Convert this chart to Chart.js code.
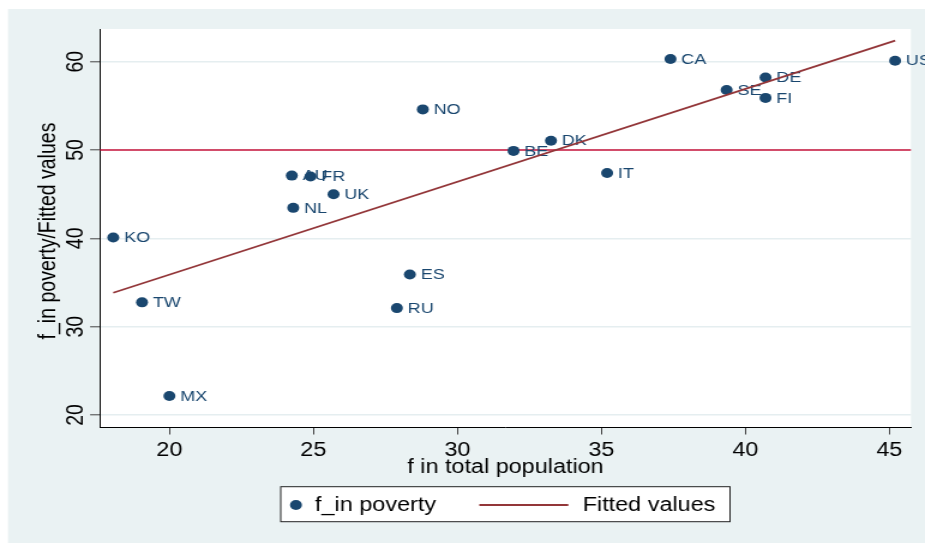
<!DOCTYPE html>
<html>
<head>
<meta charset="utf-8">
<title>f_in poverty vs f in total population</title>
<script src="https://cdn.jsdelivr.net/npm/chart.js@4"></script>
<style>
    html, body { margin: 0; padding: 0; background: #ffffff; overflow: hidden; }
    /* the graph is laid out on a 771px canvas and widened to fill the window */
    #wrap { width: 771px; height: 543px; transform: scaleX(1.1997); transform-origin: 0 0; }
</style>
</head>
<body>
<div id="wrap"><canvas id="povertyChart" width="771" height="543"></canvas></div>
<script>
// Country codes and the two shares
const countries = ['CA', 'US', 'DE', 'FI', 'SE', 'NO', 'BE', 'DK', 'IT', 'AU', 'FR', 'UK', 'NL', 'KO', 'TW', 'MX', 'ES', 'RU'];
const fTotal = [37.4, 45.2, 40.7, 40.7, 39.35, 28.8, 31.95, 33.25, 35.2, 24.25, 24.9, 25.7, 24.3, 18.05, 19.05, 20.0, 28.35, 27.9];
const fPoverty = [60.3, 60.1, 58.2, 55.9, 56.8, 54.6, 49.9, 51.05, 47.4, 47.1, 47.0, 45.0, 43.45, 40.1, 32.75, 22.15, 35.9, 32.1];

// Linear fit, end points
const fitX = [18.05, 45.2];
const fitY = [33.84, 62.38];

// Reference line
const refLine = 50;

// Axis ranges and ticks
const xRange = [17.59, 45.75];
const yRange = [18.64, 63.7];
const xTicks = [20, 25, 30, 35, 40, 45];
const yTicks = [20, 30, 40, 50, 60];

const NAVY = '#1a476f';
const MAROON = '#933639';
const RED = '#c8143c';
const BLUEGRAY = '#eaf2f3';
const FONT = '"Liberation Sans", Arial, sans-serif';

const stataLook = {
    id: 'stataLook',
    beforeDraw(chart) {
        const { ctx, chartArea: a, width, height } = chart;
        ctx.save();
        ctx.fillStyle = '#ffffff';
        ctx.fillRect(0, 0, width, height);
        ctx.fillStyle = BLUEGRAY;
        ctx.fillRect(6.7, 9, width - 6.7, height - 9);
        ctx.fillStyle = '#ffffff';
        ctx.fillRect(a.left, a.top, a.right - a.left, a.bottom - a.top);
        ctx.restore();
    },
    beforeDatasetsDraw(chart) {
        const { ctx, chartArea: a } = chart;
        const y = chart.scales.y.getPixelForValue(refLine);
        ctx.save();
        ctx.strokeStyle = RED;
        ctx.lineWidth = 1.6;
        ctx.beginPath();
        ctx.moveTo(a.left, y);
        ctx.lineTo(a.right, y);
        ctx.stroke();
        ctx.restore();
    },
    afterDatasetDraw(chart, args) {
        // country codes sit to the right of their markers
        if (args.index !== 1) return;
        const { ctx } = chart;
        ctx.save();
        ctx.fillStyle = NAVY;
        ctx.font = '15px ' + FONT;
        ctx.textAlign = 'left';
        ctx.textBaseline = 'middle';
        args.meta.data.forEach(function(pt, i) {
            ctx.fillText(countries[i], pt.x + 9, pt.y + 0.5);
        });
        ctx.restore();
    },
    afterDraw(chart) {
        const { ctx, chartArea: a } = chart;
        const xs = chart.scales.x, ys = chart.scales.y;
        ctx.save();
        ctx.fillStyle = '#000';
        ctx.font = '19.5px ' + FONT;

        // x tick labels + title
        ctx.textAlign = 'center';
        ctx.textBaseline = 'alphabetic';
        xTicks.forEach(function(v) {
            ctx.fillText(String(v), xs.getPixelForValue(v), 455.7);
        });
        ctx.fillText('f in total population', (a.left + a.right) / 2, 473.3);

        // y tick labels, turned to read upwards
        yTicks.forEach(function(v) {
            ctx.save();
            ctx.translate(69.4, ys.getPixelForValue(v));
            ctx.rotate(-Math.PI / 2);
            ctx.fillText(String(v), 0, 0);
            ctx.restore();
        });
        ctx.save();
        ctx.translate(46, 231);
        ctx.rotate(-Math.PI / 2);
        ctx.fillText('f_in poverty/Fitted values', 0, 0);
        ctx.restore();

        // legend box
        ctx.fillStyle = '#ffffff';
        ctx.fillRect(234, 486.7, 374.5, 35);
        ctx.strokeStyle = '#222';
        ctx.lineWidth = 1;
        ctx.strokeRect(234, 486.7, 374.5, 35);

        ctx.fillStyle = NAVY;
        ctx.beginPath();
        ctx.arc(246.7, 505, 5, 0, Math.PI * 2);
        ctx.fill();

        ctx.strokeStyle = MAROON;
        ctx.lineWidth = 1.8;
        ctx.beginPath();
        ctx.moveTo(399.5, 505);
        ctx.lineTo(473.7, 505);
        ctx.stroke();

        ctx.fillStyle = '#000';
        ctx.textAlign = 'left';
        ctx.fillText(chart.data.datasets[1].label, 262.6, 510.7);
        ctx.fillText(chart.data.datasets[0].label, 485.7, 511);
        ctx.restore();
    }
};

const ctx = document.getElementById('povertyChart');
new Chart(ctx, {
    type: 'scatter',
    data: {
        datasets: [{
            type: 'line',
            label: 'Fitted values',
            data: fitX.map((x, i) => ({ x: x, y: fitY[i] })),
            borderColor: MAROON,
            borderWidth: 1.8,
            pointRadius: 0,
            fill: false,
            order: 1
        }, {
            type: 'scatter',
            label: 'f_in poverty',
            data: fTotal.map((x, i) => ({ x: x, y: fPoverty[i] })),
            backgroundColor: NAVY,
            borderColor: NAVY,
            borderWidth: 0,
            pointRadius: 5,
            pointHoverRadius: 5,
            order: 2
        }]
    },
    options: {
        responsive: false,
        animation: false,
        devicePixelRatio: 1,
        layout: { padding: { top: 29, right: 11.7, left: 0, bottom: 0 } },
        plugins: { legend: { display: false }, tooltip: { enabled: false } },
        scales: {
            x: {
                type: 'linear',
                min: xRange[0],
                max: xRange[1],
                ticks: { display: false, stepSize: 5, includeBounds: false },
                grid: { drawOnChartArea: false, tickLength: 7.5, tickColor: '#444', tickWidth: 1 },
                border: { color: '#000', width: 1 },
                afterFit: function(s) { s.height = 116; }
            },
            y: {
                type: 'linear',
                min: yRange[0],
                max: yRange[1],
                ticks: { display: false, stepSize: 10, includeBounds: false },
                grid: { color: '#e5eef0', lineWidth: 1.6, tickLength: 8.3, tickColor: '#444', tickWidth: 1 },
                border: { color: '#000', width: 1 },
                afterFit: function(s) { s.width = 83.35; }
            }
        }
    },
    plugins: [stataLook]
});
</script>
</body>
</html>
